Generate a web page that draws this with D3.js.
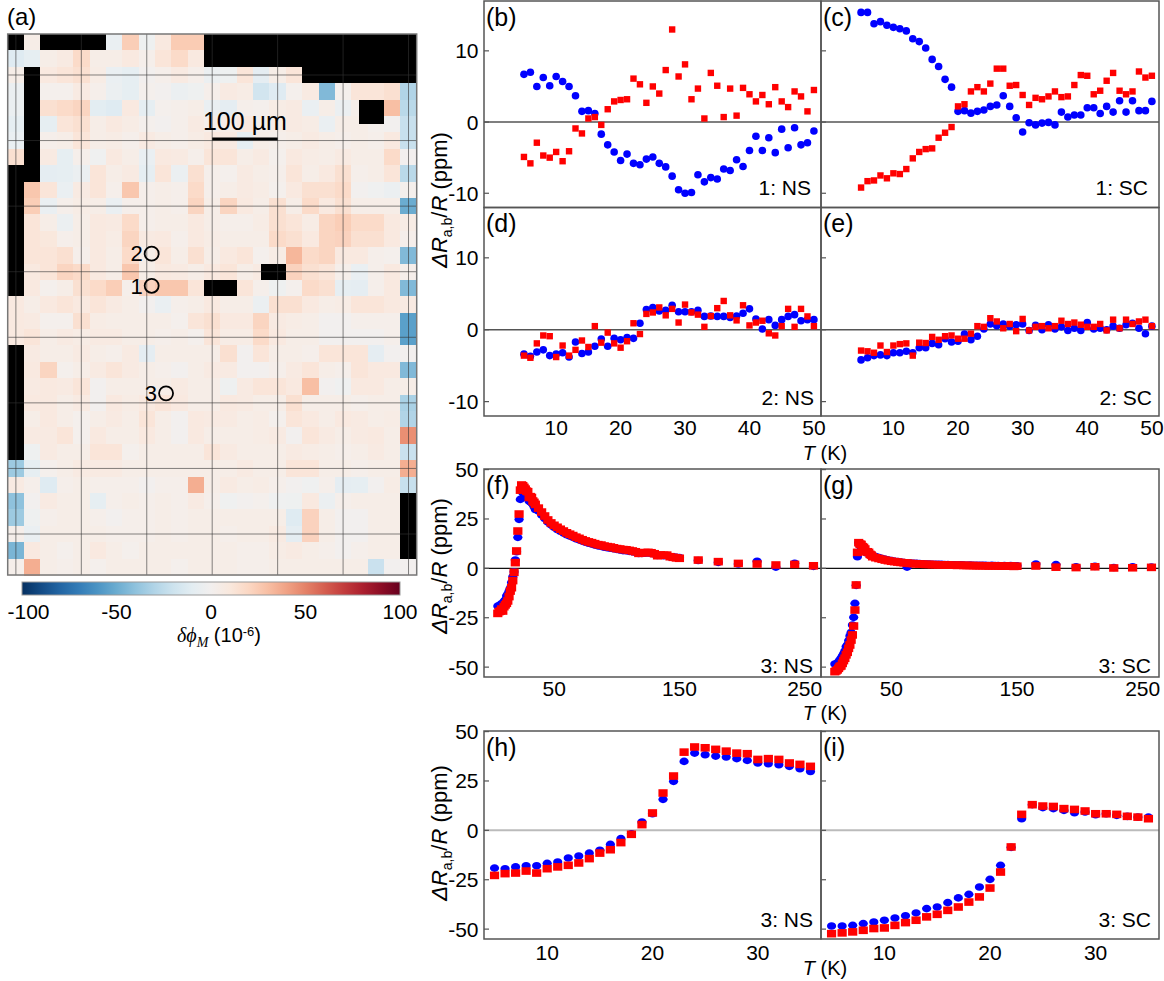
<!DOCTYPE html>
<html>
<head>
<meta charset="utf-8">
<script src="https://cdn.jsdelivr.net/npm/d3@7"></script>
<style>
  body { margin: 0; background: #fff; }
  svg text { font-family: "Liberation Sans", Arial, Helvetica, sans-serif; fill: #000; }
</style>
</head>
<body>
<svg id="fig" width="1164" height="981"></svg>
<script>
// ---------------- map data: delta phi_M (1e-6), 25 um cells, 25 columns x 33 rows ----------------
const phiRows = [
  [null, 5, null, null, null, null, -6, 24, -3, 9, 25, 25, null, null, null, null, null, null, null, null, null, null, null, null, null],
  [-12, -8, 5, 8, 18, 5, 5, 9, 3, 12, 18, 9, null, null, null, null, null, null, null, null, null, null, null, null, null],
  [5, null, 9, 12, 15, 6, -6, -8, 0, 3, 8, 3, -5, -3, 12, -9, 5, 12, null, null, null, null, null, null, null],
  [-5, null, 2, 2, 8, 3, -5, -8, 2, 0, -5, -3, 3, 8, 6, -18, -12, 2, 8, -44, 2, 12, 12, 15, -30],
  [-5, null, 15, 18, 21, -10, -12, 9, -8, 2, 3, 5, -6, -9, 3, 2, 6, 8, -6, 5, -5, 3, 5, 30, -27],
  [-8, null, -8, 12, 15, 5, 9, 6, 2, 0, 3, 8, 3, 5, 9, 3, 5, 8, 6, -6, 5, 5, 2, 0, -22],
  [-6, null, 3, 5, 12, 5, 6, 3, 8, 5, 3, 6, 9, 8, -8, 5, 3, 5, 8, 5, 3, 5, 3, 9, -22],
  [15, null, 8, -8, 3, -2, 9, 5, -6, 9, 8, 3, 12, 12, 5, 8, 2, 9, 6, 5, 8, 5, 5, 18, 0],
  [null, null, -9, -8, -5, 12, 5, 8, -8, 12, -5, 15, 3, 2, 8, 5, 3, 12, 5, 9, 15, 3, 5, 12, -27],
  [null, 27, 12, -6, 8, 12, 3, 27, 3, 5, 3, 18, 3, 5, 8, 6, 2, 9, 15, 15, 18, 0, -2, -5, 2],
  [null, 24, -6, 3, 6, 5, -6, 3, 3, 5, 3, 21, 5, 21, 9, 5, 15, 5, 18, 9, 15, 5, 5, 5, -50],
  [null, 12, 5, -5, 5, 9, 8, 18, 3, 5, 5, 9, 5, 3, 3, 6, 15, 12, 6, 21, 24, 18, 18, 9, 6],
  [null, 12, 10, 3, 5, 9, 6, 21, 8, 9, 3, 9, 6, 5, 5, 5, 18, 15, 9, 21, 22, 15, 15, 9, 3],
  [null, 12, 12, 15, 3, 9, 5, 18, 5, 12, 5, 15, 5, 9, 12, 2, 6, 33, 18, 21, 9, 9, 3, 2, -44],
  [null, 9, 12, 21, 18, 9, 5, 27, 5, 9, 8, 5, 9, 12, 5, 8, 5, 22, 15, 12, 3, -6, 3, 9, 3],
  [null, 9, 2, 5, 15, 18, 24, 3, 22, 27, 27, 12, null, null, 12, 3, -3, 2, 18, 15, -8, -9, 3, 9, -44],
  [9, 5, 9, 12, 9, 12, 8, 5, 0, -6, 3, 5, 9, 5, 5, -5, 15, 15, 9, 5, 6, 12, 12, 9, 8],
  [9, 8, 2, 2, 15, 6, 5, 5, 5, 5, 2, 12, 15, 9, 9, 21, 8, 6, 5, 0, 0, 3, 3, 3, -55],
  [9, 12, 5, 8, 6, 8, 8, 5, 5, 3, 5, 2, 12, 6, 6, 18, 9, 5, 5, 0, 0, 0, 0, 3, -55],
  [null, 8, 5, 5, 8, 5, 3, 8, -9, 5, 5, 5, 5, 15, 0, 12, 5, 5, 3, 12, 12, 12, -9, 0, 0],
  [null, 9, 21, 2, 5, 8, 12, 8, 5, 3, 0, 5, 8, 8, 0, 0, 3, 8, 12, 5, 3, 12, 9, 9, -44],
  [null, 8, 9, 8, 12, 0, 5, 5, 5, 5, 8, 5, 5, -3, 8, 12, 12, 9, 30, 0, -2, 9, 9, 5, 5],
  [null, 9, 9, 5, 8, 0, 9, 6, 9, 12, 9, 5, 5, 9, 8, 5, 5, 15, 5, 5, 5, 3, 5, 5, -32],
  [null, 5, 9, 5, 2, 5, 8, 5, 12, 5, 0, 9, 8, 8, 5, 6, 2, 12, 9, 5, 9, 8, 5, 6, -30],
  [null, 8, 8, 12, 2, 9, 5, 5, 9, 5, 0, 9, 5, 5, 5, 6, 8, 0, 12, 8, 5, 8, 9, 5, 46],
  [null, -3, 8, 5, 5, 12, 12, 2, 5, 5, 5, 5, 12, 8, 5, 5, 5, 8, 6, 5, 3, 5, 8, 5, -21],
  [-36, -8, 2, 5, 8, 8, 8, 5, 5, 5, 5, 5, 5, 5, 8, 5, 5, 12, 12, 5, 5, 3, 5, 5, 36],
  [8, 3, -12, 3, 5, 3, 3, 3, 0, 3, 3, 36, 5, 8, 5, 6, 3, 0, -2, 3, -9, -8, 0, 6, -22],
  [-40, 0, 8, 5, 5, -8, 3, 5, 3, 5, 3, 8, 3, -2, 0, 2, -2, -3, 9, -5, 3, 5, 5, 5, null],
  [-36, -3, 3, 5, 5, 3, 0, 3, 3, 5, 3, 5, 5, 5, 5, 5, 5, -12, 22, 5, 0, 0, 5, 5, null],
  [3, -6, 5, 5, 5, 5, 3, 3, 3, 5, 3, 5, 5, 3, 5, 5, 8, -9, 22, 5, 0, 0, 5, 5, null],
  [-46, 9, 5, 2, 5, 9, 5, 2, 5, 5, 5, 5, 5, 5, 3, 3, 6, 8, 5, 3, 0, 3, 5, 5, null],
  [3, 36, 5, 3, 5, 2, 5, 5, 5, 5, 2, 5, 5, 5, 3, 3, 5, 5, 5, 5, 5, 5, -21, 0, 0]
];
// masked (no data) regions, [x0, y0, x1, y1] in um
const maskRects = [
  [0, 0, 25, 25], [50, 0, 150, 25], [300, 0, 625, 50], [450, 50, 625, 75],
  [25, 50, 50, 225], [0, 200, 25, 400], [537.5, 100, 575, 137.5],
  [387.5, 350, 425, 375], [300, 375, 350, 400], [0, 475, 25, 650], [600, 700, 625, 800]
];
// device grid lines (um)
const gridX = [12.5, 112.5, 212.5, 312.5, 412.5, 512.5, 612.5];
const gridY = [62.5, 162.5, 262.5, 362.5, 462.5, 562.5, 662.5, 762.5];
// measured sites (um)
const siteLabels = ["2", "1", "3"];
const siteX = [220, 220, 242];
const siteY = [335, 384, 548];
const colorTicks = [-100, -50, 0, 50, 100];

// ---------------- temperature series ----------------
const tempK = [5,6,7,8,9,10,11,12,13,14,15,16,17,18,19,20,21,22,23,24,25,26,27,28,29,30,31,32,33,34,35,36,37,38,39,40,41,42,43,44,45,46,47,48,49,50];
const site1NS_a = [6.7,7.0,5.0,6.25,5.1,6.4,5.7,5.0,3.7,1.5,1.6,1.2,-1.7,-3.2,-4.2,-5.4,-4.5,-5.8,-6.0,-5.2,-4.9,-5.8,-6.3,-7.6,-9.5,-10.0,-9.9,-7.4,-8.4,-7.8,-8.0,-6.6,-6.8,-5.3,-6.25,-4.0,-2.0,-4.0,-2.2,-4.3,-1.0,-3.6,-0.8,-3.2,-2.9,-1.25];
const site1NS_b = [-4.9,-5.8,-2.9,-4.7,-5.0,-4.2,-5.5,-4.1,-0.9,-1.6,0.5,0.7,-0.4,1.8,2.9,3.1,3.2,6.1,5.3,2.7,5.0,4.0,7.3,13.0,6.4,8.1,3.2,4.7,0.5,6.9,5.1,0.7,4.7,0.9,4.8,3.9,2.9,3.8,2.5,4.9,2.9,2.1,4.3,3.6,1.5,4.5];
const site1SC_a = [15.4,15.4,13.8,14.1,13.6,13.3,13.1,12.8,11.7,11.3,10.4,8.8,7.8,6.0,4.9,1.5,1.6,1.25,1.5,1.7,2.2,2.4,3.7,2.2,0.6,-1.4,-0.1,-0.4,-0.15,-0.05,-0.4,1.4,0.7,1.0,1.0,2.0,2.0,1.2,2.2,1.4,3.0,1.4,3.0,1.6,1.6,2.9];
const site1SC_b = [-9.2,-8.3,-8.2,-7.5,-7.9,-7.2,-7.3,-6.6,-5.1,-4.2,-3.8,-3.7,-2.2,-1.5,-0.7,2.2,2.5,4.3,4.9,4.3,5.4,7.5,7.5,5.1,5.2,3.8,2.4,3.4,3.2,3.6,4.3,3.5,3.6,5.2,6.6,6.5,3.9,4.4,5.8,6.9,4.4,3.9,4.3,7.1,6.25,6.5];
const site2NS_a = [-3.4,-3.7,-3.1,-2.8,-3.6,-3.4,-3.2,-3.8,-1.7,-3.3,-3.1,-2.3,-1.3,-2.3,-1.2,-1.4,-1.1,-1.2,0.9,2.8,3.1,2.6,2.7,3.4,2.5,2.5,2.5,2.7,1.85,1.9,1.85,1.85,1.7,1.9,2.3,2.9,1.5,0.1,1.4,0.6,1.4,1.85,2.1,1.25,1.4,1.4];
const site2NS_b = [-3.6,-3.9,-1.9,-0.8,-0.9,-3.8,-2.2,-3.6,-2.8,-1.5,-2.4,0.5,-1.8,-0.4,-1.9,-2.5,-1.6,0.9,-0.6,2.2,2.4,3.1,2.0,2.9,1.0,3.5,2.4,2.1,0.4,1.9,3.0,4.0,2.0,1.3,3.4,0.6,1.0,1.25,-0.5,-0.8,0.5,2.9,0.4,2.9,1.85,0.5];
const site2SC_a = [-4.2,-3.9,-3.6,-3.5,-3.6,-3.2,-3.2,-3.0,-3.2,-2.5,-2.5,-1.9,-2.1,-1.25,-1.7,-1.6,-0.6,-1.4,-0.9,0.1,0.8,0.55,0.8,0.5,0.7,0.8,-0.1,0.6,0,0.7,0.1,0.4,-0.1,0.2,-0.1,1.0,0.1,0.2,0,0.5,0.2,0.7,0.9,0.2,-0.55,0.5];
const site2SC_b = [-2.9,-3.0,-3.2,-2.2,-3.1,-2.2,-2.0,-1.9,-3.6,-1.8,-1.85,-1.0,-1.4,-0.9,-0.8,-1.25,-1.25,-0.55,0.5,0.4,1.6,1.15,0.2,0.8,-0.2,1.5,-0.1,0.4,0.5,0.2,0.5,1.25,0.8,1.0,0.7,0.4,0.4,0.8,-0.1,1.4,0.2,1.4,0.8,1.15,1.4,0.5];

const tempLow = [5,6,7,8,9,10,11,12,13,14,15,16,17,18,19,20,21,22,23,24,25,26,27,28,29,30,31,32,33,34,35];
const site3NS_a = [-19.1,-19.4,-18.5,-17.9,-17.9,-16.7,-16.0,-14.0,-13.0,-11.5,-10.1,-7.1,-4.2,-1.7,4.2,8.4,15.7,24.8,34.9,39.1,38.3,37.6,37.1,36.3,35.4,34.1,33.7,33.2,32.4,31.2,29.8];
const site3NS_b = [-22.8,-21.9,-21.6,-20.6,-21.6,-19.4,-18.5,-17.7,-16.5,-14.3,-11.5,-9.8,-6.2,-2.0,2.9,8.8,18.9,27.5,39.6,42.2,41.8,41.0,40.1,39.1,38.8,35.9,36.3,35.9,34.1,33.4,32.4];
const site3SC_a = [-48.4,-48.4,-48.1,-47.2,-46.4,-45.5,-44.4,-43.2,-41.8,-39.6,-38.8,-36.6,-34.2,-32.4,-28.7,-24.8,-17.7,-8.6,5.9,13.0,11.5,11.0,10.1,8.9,9.3,7.9,8.4,7.6,7.1,6.7,6.7];
const site3SC_b = [-52.3,-51.9,-51.4,-50.6,-49.7,-49.4,-48.1,-46.7,-45.5,-43.8,-42.5,-40.5,-38.8,-36.3,-33.7,-29.2,-21.1,-8.4,8.1,13.0,12.3,12.1,11.0,10.6,9.8,8.4,8.4,8.1,7.1,6.7,5.9];

// high-temperature continuation of site 3
const tempHigh = [37.5,40,42.5,45,47.5,50,52.5,55,57.5,60,62.5,65,67.5,70,72.5,75,77.5,80,82.5,85,87.5,90,92.5,95,97.5,100,102.5,105,107.5,110,112.5,115,117.5,120,122.5,125,127.5,130,132.5,135,137.5,140,142.5,145,147.5,150,165,181,197,212,227,242,257];
const site3NSHigh_a = [29.0,27.0,25.2,23.4,22.0,20.8,19.7,18.8,17.9,17.0,16.4,15.7,15.0,14.4,13.8,13.2,12.7,12.3,11.8,11.4,11.1,10.7,10.4,10.2,9.9,9.6,9.3,9.0,8.9,8.6,8.4,8.1,7.5,7.6,7.7,7.8,7.6,7.2,6.5,6.6,6.4,6.5,5.9,5.8,5.6,5.5,4.0,3.0,2.2,3.6,0.6,2.6,1.0];
const site3NSHigh_b = [30.5,28.5,26.5,24.5,23.0,21.8,20.8,19.8,18.9,18.0,17.3,16.6,15.8,15.2,14.5,13.9,13.4,13.0,12.5,12.0,11.8,11.3,11.0,10.8,10.4,10.0,9.8,9.5,9.4,9.1,8.8,8.4,7.6,7.8,8.0,8.1,7.9,7.4,6.4,6.8,6.6,6.7,5.9,5.6,5.3,5.1,4.2,3.4,2.5,2.2,1.7,2.0,1.3];
const site3SCHigh_a = [6.0,5.5,5.0,4.6,4.2,3.9,3.6,3.4,3.2,3.0,0.6,2.7,2.6,2.5,2.4,2.3,2.2,2.2,2.1,2.1,2.0,2.0,1.9,1.9,1.8,1.8,1.7,1.8,1.7,1.6,1.7,1.6,1.5,1.6,1.5,1.5,1.4,1.5,1.4,1.4,1.3,1.4,1.3,1.4,1.2,1.3,2.2,1.9,0.8,1.0,0.4,0.8,0.6];
const site3SCHigh_b = [5.4,5.0,4.6,4.2,3.9,3.6,3.4,3.2,3.0,2.8,2.7,2.5,2.4,2.3,2.2,2.1,2.0,2.0,1.9,1.9,1.8,1.8,1.7,1.7,1.6,1.6,1.5,1.6,1.5,1.4,1.5,1.4,1.3,1.4,1.3,1.3,1.2,1.3,1.2,1.2,1.1,1.2,1.1,1.2,1.0,1.1,1.2,0.6,0.4,0.8,0.2,0.3,0.5];

const tempAll = tempLow.concat(tempHigh);

// ---------------- drawing ----------------
const svg = d3.select("#fig");
const BLUE = "#0000ff", RED = "#ff0000", FRAME = "#555";
const SERIF = '"Liberation Serif", "DejaVu Serif", serif';

function richText(g, parts, attrs) {
  const t = g.append("text");
  Object.entries(attrs).forEach(([k, v]) => t.attr(k, v));
  let shift = 0;
  parts.forEach(p => {
    const s = t.append("tspan").text(p.t);
    if (p.i) s.attr("font-style", "italic");
    if (p.f) s.attr("font-family", p.f);
    if (p.size) s.attr("font-size", p.size);
    const target = p.dy || 0;
    if (target !== shift) { s.attr("dy", target - shift); shift = target; }
  });
  return t;
}

// ---- panel (a): map ----
const mapX = d3.scaleLinear().domain([0, 625]).range([7.7, 416.7]);
const mapY = d3.scaleLinear().domain([0, 825]).range([34, 575]);
const CELL = 25;
const phiColor = v => d3.interpolateRdBu(1 - (v + 100) / 200);

const cells = [];
phiRows.forEach((row, r) => row.forEach((v, c) => cells.push({ r, c, v })));
const gMap = svg.append("g");
gMap.selectAll("rect.cell").data(cells).join("rect")
  .attr("class", "cell")
  .attr("x", d => mapX(d.c * CELL))
  .attr("y", d => mapY(d.r * CELL))
  .attr("width", d => mapX((d.c + 1) * CELL) - mapX(d.c * CELL) + 0.5)
  .attr("height", d => mapY((d.r + 1) * CELL) - mapY(d.r * CELL) + 0.5)
  .attr("fill", d => d.v == null ? "#000" : phiColor(d.v))
  .attr("shape-rendering", "crispEdges");

gMap.selectAll("rect.mask").data(maskRects).join("rect")
  .attr("class", "mask")
  .attr("x", d => mapX(d[0])).attr("y", d => mapY(d[1]))
  .attr("width", d => mapX(d[2]) - mapX(d[0]))
  .attr("height", d => mapY(d[3]) - mapY(d[1]))
  .attr("fill", "#000").attr("shape-rendering", "crispEdges");

gMap.selectAll("line.gx").data(gridX).join("line")
  .attr("x1", d => mapX(d)).attr("x2", d => mapX(d))
  .attr("y1", mapY(0)).attr("y2", mapY(825))
  .attr("stroke", "#333").attr("stroke-opacity", 0.6).attr("stroke-width", 1);
gMap.selectAll("line.gy").data(gridY).join("line")
  .attr("y1", d => mapY(d)).attr("y2", d => mapY(d))
  .attr("x1", mapX(0)).attr("x2", mapX(625))
  .attr("stroke", "#333").attr("stroke-opacity", 0.6).attr("stroke-width", 1);

gMap.append("rect")
  .attr("x", mapX(0)).attr("y", mapY(0))
  .attr("width", mapX(625) - mapX(0)).attr("height", mapY(825) - mapY(0))
  .attr("fill", "none").attr("stroke", "#777").attr("stroke-width", 1.5);

// scale bar (100 um)
gMap.append("line")
  .attr("x1", mapX(312.5)).attr("x2", mapX(412.5))
  .attr("y1", mapY(160)).attr("y2", mapY(160))
  .attr("stroke", "#000").attr("stroke-width", 3);
gMap.append("text").attr("x", mapX(362.5)).attr("y", 129.5)
  .attr("text-anchor", "middle").attr("font-size", 25).text("100 µm");

// measured sites
siteLabels.forEach((lab, i) => {
  gMap.append("circle").attr("cx", mapX(siteX[i])).attr("cy", mapY(siteY[i])).attr("r", 7)
    .attr("fill", "none").attr("stroke", "#000").attr("stroke-width", 1.8);
  gMap.append("text").attr("x", mapX(siteX[i]) - 9).attr("y", mapY(siteY[i]) + 7.8)
    .attr("text-anchor", "end").attr("font-size", 22).text(lab);
});

svg.append("text").attr("x", 7).attr("y", 25).attr("font-size", 24).text("(a)");

// colour bar
const cbX = d3.scaleLinear().domain([-100, 100]).range([22, 400]);
const defs = svg.append("defs");
const grad = defs.append("linearGradient").attr("id", "cbGrad").attr("x1", "0%").attr("x2", "100%");
d3.range(0, 1.0001, 0.05).forEach(t => {
  grad.append("stop").attr("offset", (t * 100) + "%").attr("stop-color", d3.interpolateRdBu(1 - t));
});
svg.append("rect").attr("x", cbX(-100)).attr("y", 582).attr("width", cbX(100) - cbX(-100)).attr("height", 13)
  .attr("fill", "url(#cbGrad)").attr("stroke", "#999").attr("stroke-width", 1);
colorTicks.forEach((v, i) => {
  const first = i === 0;
  svg.append("text").attr("x", first ? 7.5 : cbX(v)).attr("y", 618.5)
    .attr("text-anchor", first ? "start" : "middle").attr("font-size", 21)
    .text(v < 0 ? "-" + Math.abs(v) : String(v));
});
richText(svg, [
  { t: "δϕ", i: true, f: SERIF },
  { t: "M", i: true, f: SERIF, size: 14, dy: 5 },
  { t: " (10" },
  { t: "-6", size: 13, dy: -6 },
  { t: ")" }
], { x: 219, y: 642, "text-anchor": "middle", "font-size": 20 });

// ---- panels (b)-(i) ----
const L = 484, M = 821, R = 1159;
const lowX = [-1.2, 51.1], lowY = [-12, 17];
const wideX = [-6, 263], bigY = [-55, 50.3], narrowX = [4, 36];

const panels = [
  { lab: "(b)", x0: L, x1: M, y0: 1,     y1: 207.5, xd: lowX, yd: lowY, T: tempK, a: site1NS_a, b: site1NS_b, tag: "1: NS", tagDy: 12.5, tagDx: 10, yt: [-10, 0, 10], yl: true, xt: null, xtDy: 19, zero: [FRAME, 1.5], big: false },
  { lab: "(c)", x0: M, x1: R, y0: 1,     y1: 207.5, xd: lowX, yd: lowY, T: tempK, a: site1SC_a, b: site1SC_b, tag: "1: SC", tagDy: 12.5, tagDx: 11, yt: [-10, 0, 10], yl: false, xt: null, xtDy: 19, zero: [FRAME, 1.5], big: false },
  { lab: "(d)", x0: L, x1: M, y0: 207.5, y1: 416,   xd: lowX, yd: lowY, T: tempK, a: site2NS_a, b: site2NS_b, tag: "2: NS", tagDy: 11, tagDx: 7, yt: [-10, 0, 10], yl: true, xt: [10, 20, 30, 40, 50], xtDy: 19, zero: [FRAME, 1.5], big: false },
  { lab: "(e)", x0: M, x1: R, y0: 207.5, y1: 416,   xd: lowX, yd: lowY, T: tempK, a: site2SC_a, b: site2SC_b, tag: "2: SC", tagDy: 11, tagDx: 7, yt: [-10, 0, 10], yl: false, xt: [10, 20, 30, 40, 50], xtDy: 19, zero: [FRAME, 1.5], big: false },
  { lab: "(f)", x0: L, x1: M, y0: 469,   y1: 677,   xd: wideX, yd: bigY, T: tempAll, a: site3NS_a.concat(site3NSHigh_a), b: site3NS_b.concat(site3NSHigh_b), tag: "3: NS", tagDy: 4, tagDx: 8, yt: [-50, -25, 0, 25, 50], yl: true, xt: [50, 150, 250], xtDy: 18.5, zero: ["#111", 1.3], big: true },
  { lab: "(g)", x0: M, x1: R, y0: 469,   y1: 677,   xd: wideX, yd: bigY, T: tempAll, a: site3SC_a.concat(site3SCHigh_a), b: site3SC_b.concat(site3SCHigh_b), tag: "3: SC", tagDy: 4, tagDx: 8, yt: [-50, -25, 0, 25, 50], yl: false, xt: [50, 150, 250], xtDy: 18.5, zero: ["#111", 1.3], big: true },
  { lab: "(h)", x0: L, x1: M, y0: 731,   y1: 939,   xd: narrowX, yd: bigY, T: tempLow, a: site3NS_a, b: site3NS_b, tag: "3: NS", tagDy: 11.7, tagDx: 8, yt: [-50, -25, 0, 25, 50], yl: true, xt: [10, 20, 30], xtDy: 20.5, zero: ["#bbb", 2], big: true },
  { lab: "(i)", x0: M, x1: R, y0: 731,   y1: 939,   xd: narrowX, yd: bigY, T: tempLow, a: site3SC_a, b: site3SC_b, tag: "3: SC", tagDy: 11.7, tagDx: 8, yt: [-50, -25, 0, 25, 50], yl: false, xt: [10, 20, 30], xtDy: 20.5, zero: ["#bbb", 2], big: true }
];

panels.forEach((p, k) => {
  const x = d3.scaleLinear().domain(p.xd).range([p.x0, p.x1]);
  const y = d3.scaleLinear().domain(p.yd).range([p.y1, p.y0]);
  const g = svg.append("g");
  const clipId = "clip" + k;
  defs.append("clipPath").attr("id", clipId).append("rect")
    .attr("x", p.x0).attr("y", p.y0).attr("width", p.x1 - p.x0).attr("height", p.y1 - p.y0);

  // zero line
  g.append("line").attr("x1", p.x0).attr("x2", p.x1).attr("y1", y(0)).attr("y2", y(0))
    .attr("stroke", p.zero[0]).attr("stroke-width", p.zero[1]);

  // markers: circles for the a-axis response, squares for the b-axis response
  const pts = g.append("g").attr("clip-path", `url(#${clipId})`);
  const ptsA = p.T.map((t, i) => [t, p.a[i]]);
  const ptsB = p.T.map((t, i) => [t, p.b[i]]);
  const rx = p.big ? 4.6 : 3.8, ry = p.big ? 3.8 : 3.8;
  const sw = p.big ? 9.2 : 6.4, sh = p.big ? 7.6 : 6.4;
  pts.selectAll("ellipse").data(ptsA).join("ellipse")
    .attr("cx", d => x(d[0])).attr("cy", d => y(d[1])).attr("rx", rx).attr("ry", ry)
    .attr("fill", BLUE);
  pts.selectAll("rect").data(ptsB).join("rect")
    .attr("x", d => x(d[0]) - sw / 2).attr("y", d => y(d[1]) - sh / 2)
    .attr("width", sw).attr("height", sh).attr("fill", RED);

  // frame
  g.append("rect").attr("x", p.x0).attr("y", p.y0).attr("width", p.x1 - p.x0).attr("height", p.y1 - p.y0)
    .attr("fill", "none").attr("stroke", FRAME).attr("stroke-width", 1.5);

  // inward y ticks
  g.selectAll("line.yt").data(p.yt).join("line")
    .attr("x1", p.x0).attr("x2", p.x0 + 5).attr("y1", d => y(d)).attr("y2", d => y(d))
    .attr("stroke", FRAME).attr("stroke-width", 1.2);
  if (p.yl) {
    g.selectAll("text.yl").data(p.yt).join("text")
      .attr("x", 478.5).attr("y", d => y(d) + 7.5).attr("text-anchor", "end").attr("font-size", 21)
      .text(d => d < 0 ? "-" + Math.abs(d) : String(d));
  }
  if (p.xt) {
    g.selectAll("text.xl").data(p.xt).join("text")
      .attr("x", d => x(d)).attr("y", p.y1 + p.xtDy).attr("text-anchor", "middle").attr("font-size", 21)
      .text(d => String(d));
  }
  // panel letter and site tag
  g.append("text").attr("x", p.x0 + 2).attr("y", p.y0 + 24.5).attr("font-size", 25).text(p.lab);
  g.append("text").attr("x", p.x1 - p.tagDx).attr("y", p.y1 - p.tagDy)
    .attr("text-anchor", "end").attr("font-size", 21).text(p.tag);
});

// axis titles
const yTitle = [
  { t: "Δ", i: true }, { t: "R", i: true }, { t: "a,b", size: 14, dy: 5 },
  { t: "/" }, { t: "R", i: true }, { t: " (ppm)" }
];
[200, 566, 833].forEach(cy => {
  richText(svg, yTitle, { transform: `translate(447,${cy}) rotate(-90)`, "text-anchor": "middle", "font-size": 22 });
});
const xTitle = [{ t: "T", i: true }, { t: " (K)" }];
[459.5, 719.5, 975].forEach(by => {
  richText(svg, xTitle, { x: 825, y: by, "text-anchor": "middle", "font-size": 20 });
});
</script>
</body>
</html>
